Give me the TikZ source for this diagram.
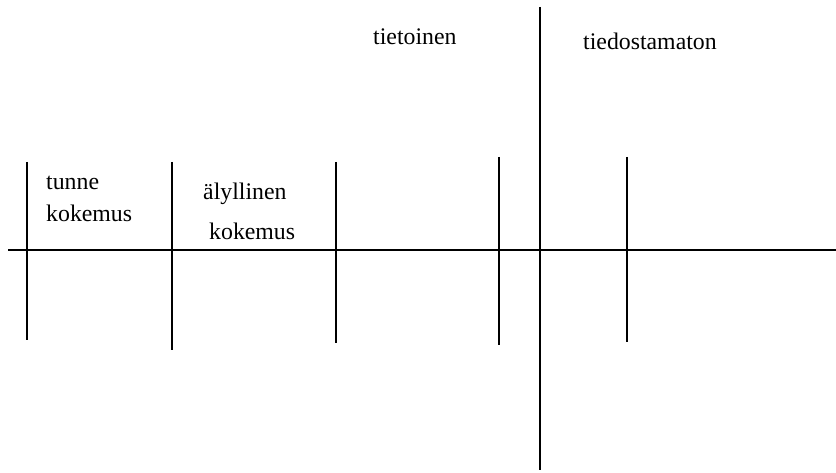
\documentclass[tikz,border=0pt]{standalone}
\usepackage{fontspec}
\setmainfont{Liberation Serif}
\begin{document}
\begin{tikzpicture}[x=1pt,y=-1pt,
  lbl/.style={anchor=base west,inner sep=0pt,font=\fontsize{23.8}{28}\selectfont},
  ln/.style={line width=2.9pt,black}]
\useasboundingbox (0,0) rectangle (836,473);
% axis endpoints
\coordinate (hL) at (8,250);
\coordinate (hR) at (836,250);
\coordinate (vT) at (540,7);
\coordinate (vB) at (540,470);
\coordinate (a1) at (27,162);  \coordinate (a2) at (27,340);
\coordinate (b1) at (172,162); \coordinate (b2) at (172,350);
\coordinate (c1) at (336,162); \coordinate (c2) at (336,343);
\coordinate (d1) at (499,157); \coordinate (d2) at (499,345);
\coordinate (e1) at (627,157); \coordinate (e2) at (627,342);
\draw[ln] (hL) -- (hR);
\draw[ln] (vT) -- (vB);
\draw[ln] (a1) -- (a2);
\draw[ln] (b1) -- (b2);
\draw[ln] (c1) -- (c2);
\draw[ln] (d1) -- (d2);
\draw[ln] (e1) -- (e2);
% labels
\node[lbl] (t1) at (373,45) {tietoinen};
\node[lbl] (t2) at (583,50) {tiedostamaton};
\node[lbl] (t3) at (46,190) {tunne};
\node[lbl] (t4) at (46,222) {kokemus};
\node[lbl] (t5) at (203,200) {älyllinen};
\node[lbl] (t6) at (209,240) {kokemus};
\end{tikzpicture}
\end{document}
